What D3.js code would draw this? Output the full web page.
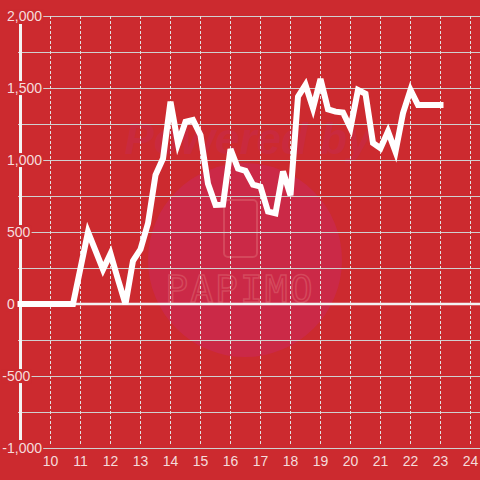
<!DOCTYPE html>
<html>
<head>
<meta charset="utf-8">
<script src="https://cdn.jsdelivr.net/npm/d3@7"></script>
<style>
html,body{margin:0;padding:0;background:#cc2a2f;}
svg{display:block;}
</style>
</head>
<body>
<svg id="chart" width="480" height="480"></svg>
<script>
const times = [9, 9.25, 9.5, 9.75, 10, 10.25, 10.5, 10.75,
  11, 11.25, 11.5, 11.75, 12, 12.25, 12.5, 12.75,
  13, 13.25, 13.5, 13.75, 14, 14.25, 14.5, 14.75,
  15, 15.25, 15.5, 15.75, 16, 16.25, 16.5, 16.75,
  17, 17.25, 17.5, 17.75, 18, 18.25, 18.5, 18.75,
  19, 19.25, 19.5, 19.75, 20, 20.25, 20.5, 20.75,
  21, 21.25, 21.5, 21.75, 22, 22.25, 22.5, 22.75, 23];
const values = [0, 0, 0, 0, 0, 0, 0, 0,
  250, 500, 370, 240, 350, 170, 0, 300,
  380, 560, 895, 1010, 1405, 1115, 1265, 1278,
  1172, 835, 688, 690, 1075, 940, 925, 828,
  815, 642, 630, 920, 755, 1440, 1522, 1360,
  1562, 1352, 1336, 1330, 1222, 1486, 1460, 1118,
  1082, 1198, 1058, 1325, 1487, 1382, 1382, 1382, 1382];
const xTicks = [10, 11, 12, 13, 14, 15, 16, 17, 18, 19, 20, 21, 22, 23, 24];
const yGrid = [-1000, -750, -500, -250, 0, 250, 500, 750, 1000, 1250, 1500, 1750, 2000];
const yLabels = [-1000, -500, 0, 500, 1000, 1500, 2000];

const W = 480, H = 480;
const bg = "#cc2a2f";
const svg = d3.select("#chart");
const x = d3.scaleLinear().domain([10, 24]).range([50.5, 470.5]);
const y = d3.scaleLinear().domain([-1000, 2000]).range([448, 16]);

svg.append("rect").attr("width", W).attr("height", H).attr("fill", bg);

// watermark
const wm = svg.append("g");
wm.append("circle").attr("cx", 245).attr("cy", 260).attr("r", 97).attr("fill", "#cb2947");
wm.append("text").attr("x", 248).attr("y", 154).attr("text-anchor", "middle")
  .attr("font-family", "Liberation Sans, Arial, sans-serif").attr("font-weight", "bold")
  .attr("font-style", "italic").attr("font-size", 44).attr("fill", "#c92a3e").text("Powered by");
wm.append("rect").attr("x", 224).attr("y", 200).attr("width", 33).attr("height", 57).attr("rx", 4)
  .attr("fill", "none").attr("stroke", "#d4485c").attr("stroke-width", 2);
wm.append("text").attr("x", 240).attr("y", 302).attr("text-anchor", "middle")
  .attr("font-family", "DejaVu Sans Mono, monospace").attr("font-size", 38).attr("letter-spacing", 2)
  .attr("fill", "none").attr("stroke", "#d4485c").attr("stroke-width", 1.5).text("PAPIMO");

// horizontal grid
svg.append("g").selectAll("line").data(yGrid).join("line")
  .attr("x1", 18).attr("x2", W)
  .attr("y1", d => Math.round(y(d)) + 0.5).attr("y2", d => Math.round(y(d)) + 0.5)
  .attr("stroke", "#d0d0d0").attr("stroke-width", 1.2);

// vertical dashed grid
svg.append("g").selectAll("line").data(xTicks).join("line")
  .attr("x1", d => x(d)).attr("x2", d => x(d))
  .attr("y1", y(2000)).attr("y2", y(-1000) - 2)
  .attr("stroke", "#e2e2e2").attr("stroke-width", 1).attr("stroke-dasharray", "3,2");

// zero line
svg.append("line").attr("x1", 18).attr("x2", W).attr("y1", y(0)).attr("y2", y(0))
  .attr("stroke", "#f2f2f2").attr("stroke-width", 2.5);

// y axis line
svg.append("line").attr("x1", 20.5).attr("x2", 20.5).attr("y1", 24).attr("y2", 440)
  .attr("stroke", "#f4f4f4").attr("stroke-width", 3);

const fmt = d3.format(",");
const labelColor = "#f5dcdc";
// y labels with background
const yl = svg.append("g").selectAll("g").data(yLabels).join("g");
yl.append("rect").attr("fill", bg);
yl.append("text").attr("x", d => d < 0 ? 2.3 : 7).attr("y", d => y(d)).attr("dy", "0.36em")
  .attr("text-anchor", "start").attr("font-family", "Liberation Sans, Arial, sans-serif")
  .attr("font-size", 14).attr("fill", labelColor).text(d => d < 0 ? "-" + fmt(-d) : fmt(d));
yl.each(function() {
  const g = d3.select(this);
  const b = g.select("text").node().getBBox();
  g.select("rect").attr("x", b.x - 1).attr("y", b.y + 1).attr("width", b.width + 2).attr("height", b.height - 2);
});

// x labels
svg.append("g").selectAll("text").data(xTicks).join("text")
  .attr("x", d => x(d)).attr("y", 466).attr("text-anchor", "middle")
  .attr("font-family", "Liberation Sans, Arial, sans-serif").attr("font-size", 14)
  .attr("fill", labelColor).text(d => d);

// data line
const line = d3.line().x((d, i) => x(times[i])).y(d => y(d));
svg.append("path").datum(values).attr("d", line)
  .attr("fill", "none").attr("stroke", "#ffffff").attr("stroke-width", 6)
  .attr("stroke-linecap", "square").attr("stroke-linejoin", "miter");
</script>
</body>
</html>
